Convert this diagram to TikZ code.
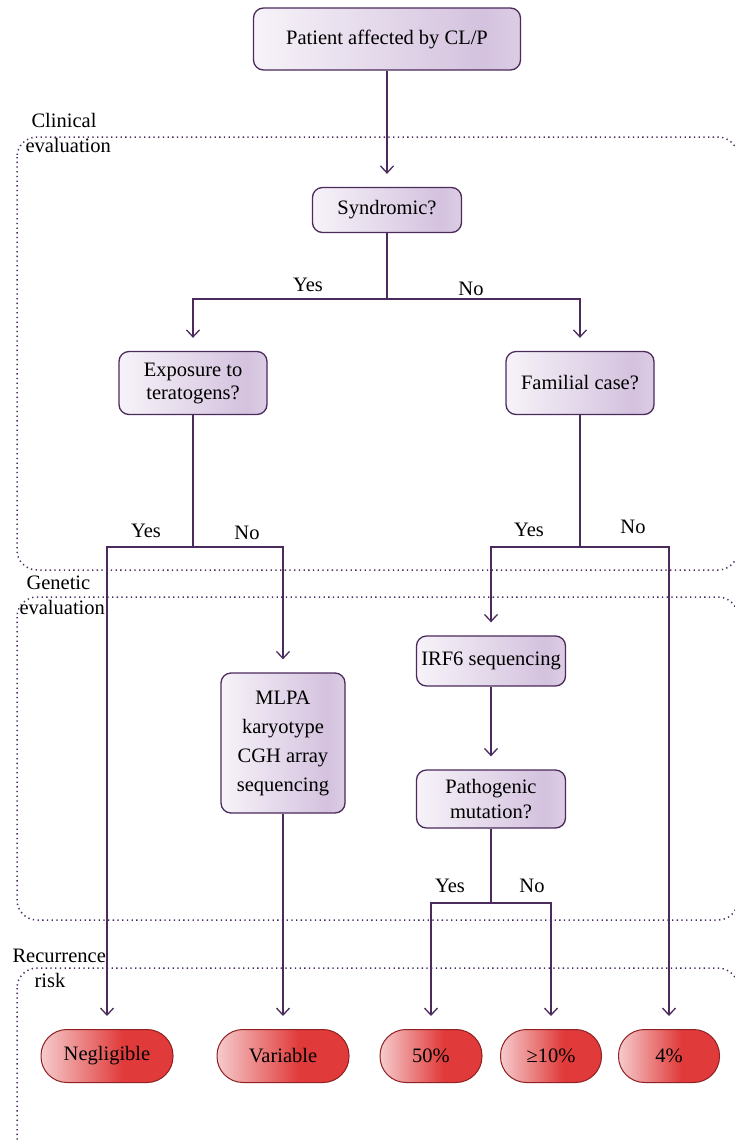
\documentclass[tikz,border=0pt]{standalone}
\usepackage{fontspec}
\setmainfont{Liberation Serif}
\usetikzlibrary{arrows.meta, positioning}
\definecolor{cplum}{HTML}{4B2A5C}
\definecolor{clavlight}{HTML}{F7F3F9}
\definecolor{clavdark}{HTML}{D4C2DE}
\definecolor{clavmid}{HTML}{DCCDE4}
\definecolor{cpink}{HTML}{F6CBCD}
\definecolor{cred}{HTML}{E03B3A}
\definecolor{cwine}{HTML}{8E1F22}
\pgfdeclarehorizontalshading{lavfade}{100bp}{color(0bp)=(clavlight); color(25bp)=(clavlight); color(68bp)=(clavdark); color(75bp)=(clavmid); color(100bp)=(clavmid)}
\pgfdeclarehorizontalshading{redfade}{100bp}{color(0bp)=(cpink); color(25bp)=(cpink); color(56bp)=(cred); color(100bp)=(cred)}
\tikzset{
  qbox/.style={draw=cplum, line width=1.3pt, rounded corners=10pt, shading=lavfade,
    align=center, inner sep=0pt, font=\fontsize{20.5}{23}\selectfont},
  riskpill/.style={draw=cwine, line width=1pt, rounded corners=26pt, shading=redfade,
    minimum height=53pt, inner sep=0pt, font=\fontsize{20.5}{24}\selectfont},
  link/.style={draw=cplum, line width=1.3pt},
  arrowlink/.style={link, -{Straight Barb[length=7pt, width=13pt]}, shorten >=13pt},
  branch/.style={font=\fontsize{20.5}{24}\selectfont},
  zone/.style={draw=cplum, line width=1.5pt, dash pattern=on 1.3pt off 3.4pt, rounded corners=20pt},
  zonelabel/.style={align=left, font=\fontsize{20.5}{25}\selectfont}
}

\begin{document}
\begin{tikzpicture}[x=1pt, y=-1pt]
\useasboundingbox (0,0) rectangle (734,1141);

% ============================================================
% Dotted zones and their labels
\draw[zone] (17,137) rectangle (738,570);
\draw[zone] (17,597) rectangle (738,920);
\draw[zone] (17,968) rectangle (738,1185);

\node[zonelabel, anchor=west] (clinlbl) at (22,133) {\hspace*{6pt}Clinical\\evaluation};
\node[zonelabel, anchor=west] (genlbl) at (16,595) {\hspace*{7pt}Genetic\\evaluation};
\node[zonelabel, anchor=west] (reclbl) at (9,968) {Recurrence\\\hspace*{22pt}risk};

% ============================================================
% Question boxes
\node[qbox, minimum width=267pt, minimum height=62pt] (patient) at (387,39)
  {Patient affected by CL/P};
\node[qbox, minimum width=149pt, minimum height=45pt] (syndromic) at (387,210)
  {Syndromic?};
\node[qbox, minimum width=148pt, minimum height=63pt] (exposure) at (193,383)
  {Exposure to\\teratogens?};
\node[qbox, minimum width=148pt, minimum height=63pt] (familial) at (580,383)
  {Familial case?};
\node[qbox, minimum width=124pt, minimum height=140pt, font=\fontsize{20.5}{29}\selectfont] (mlpa) at (283,743)
  {MLPA\\karyotype\\CGH array\\sequencing};
\node[qbox, minimum width=149pt, minimum height=50pt] (irf6) at (491,661)
  {IRF6 sequencing};
\node[qbox, minimum width=149pt, minimum height=58pt, font=\fontsize{20.5}{25}\selectfont] (pathogenic) at (491,799)
  {Pathogenic\\mutation?};

% Risk pills (bottom row)
\node[riskpill, minimum width=132pt] (negligible) at (107,1056) {Negligible};
\node[riskpill, minimum width=132pt] (variable) at (283,1056) {Variable};
\node[riskpill, minimum width=102pt] (fifty) at (431,1056) {50\%};
\node[riskpill, minimum width=101pt] (tenplus) at (551,1056) {≥10\%};
\node[riskpill, minimum width=101pt] (four) at (669,1056) {4\%};

% ============================================================
% Branch points
\coordinate (synsplit) at (387,299);
\coordinate (expsplit) at (193,547);
\coordinate (famsplit) at (580,547);
\coordinate (patsplit) at (491,903);

% Connectors
\draw[arrowlink] (patient) -- (syndromic);
\draw[link] (syndromic) -- (synsplit);
\draw[arrowlink] (synsplit) -| (exposure.north);
\draw[arrowlink] (synsplit) -| (familial.north);

\draw[link] (exposure) -- (expsplit);
\draw[arrowlink] (expsplit) -| (negligible.north);
\draw[arrowlink] (expsplit) -| (mlpa.north);
\draw[arrowlink] (mlpa) -- (variable);

\draw[link] (familial) -- (famsplit);
\draw[arrowlink] (famsplit) -| (irf6.north);
\draw[arrowlink] (famsplit) -| (four.north);
\draw[arrowlink] (irf6) -- (pathogenic);

\draw[link] (pathogenic) -- (patsplit);
\draw[arrowlink] (patsplit) -| (fifty.north);
\draw[arrowlink] (patsplit) -| (tenplus.north);

% Yes / No labels
\node[branch] (synyes) at (308,285) {Yes};
\node[branch] (synno) at (471,289) {No};
\node[branch] (expyes) at (146,531) {Yes};
\node[branch] (expno) at (247,533) {No};
\node[branch] (famyes) at (529,530) {Yes};
\node[branch] (famno) at (633,527) {No};
\node[branch] (patyes) at (450,886) {Yes};
\node[branch] (patno) at (532,886) {No};

\end{tikzpicture}
\end{document}
